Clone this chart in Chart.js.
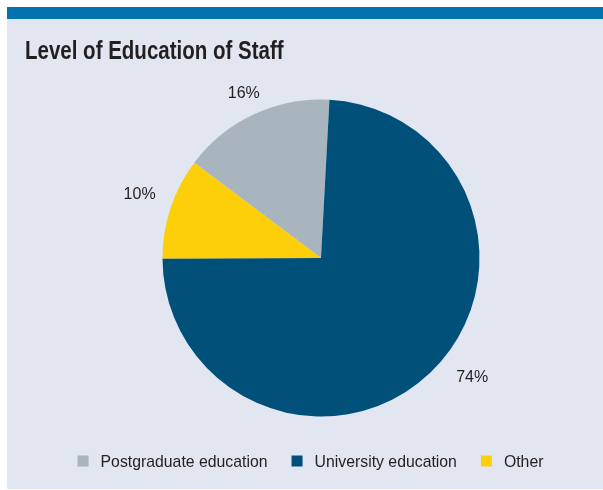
<!DOCTYPE html>
<html>
<head>
<meta charset="utf-8">
<script src="https://cdn.jsdelivr.net/npm/chart.js@4/dist/chart.umd.min.js"></script>
<style>
  html, body { margin: 0; padding: 0; background: #ffffff; }
  #wrap { position: relative; width: 603px; height: 490px; }
  canvas { display: block; }
</style>
</head>
<body>
<div id="wrap"><canvas id="c" width="603" height="490"></canvas></div>
<script>
// ---- data ----
const titleText = 'Level of Education of Staff';
const categories = ['Postgraduate education', 'University education', 'Other'];
const shares = [15.6, 74.1, 10.3];
const shareLabels = ['16%', '74%', '10%'];
const sliceColors = ['#a8b5bf', '#00507a', '#fccf0a'];

// ---- styles / positions ----
const FONT = '"Liberation Sans", Arial, Helvetica, sans-serif';
const PANEL_BG = '#e1e6f0';
const STRIP = '#0073ae';
const TEXT = '#231f20';
const labelAngleShift = [0, -8.5, 1.2];   // degrees, for the outside percentage labels
const labelGaps = [12, 17, 17];

function condensedText(ctx, text, x, y, sx) {
  ctx.save();
  ctx.translate(x, y);
  ctx.scale(sx, 1);
  ctx.fillText(text, 0, 0);
  ctx.restore();
}

const decorPlugin = {
  id: 'decor',
  beforeDraw(chart) {
    const ctx = chart.ctx;
    ctx.save();
    ctx.fillStyle = '#ffffff';
    ctx.fillRect(0, 0, chart.width, chart.height);
    ctx.fillStyle = PANEL_BG;
    ctx.fillRect(7, 7, chart.width - 7, chart.height - 8);
    ctx.fillStyle = STRIP;
    ctx.fillRect(7, 7, chart.width - 7, 12);
    // title
    ctx.fillStyle = TEXT;
    ctx.font = 'bold 25px ' + FONT;
    ctx.textBaseline = 'alphabetic';
    ctx.textAlign = 'left';
    condensedText(ctx, titleText, 25, 58.5, 0.82);
    ctx.restore();
  },
  afterDraw(chart) {
    const ctx = chart.ctx;
    const meta = chart.getDatasetMeta(0);
    ctx.save();
    // outside percentage labels
    ctx.font = '16px ' + FONT;
    ctx.fillStyle = TEXT;
    ctx.textAlign = 'center';
    ctx.textBaseline = 'alphabetic';
    meta.data.forEach((arc, i) => {
      const p = arc.getProps(['x', 'y', 'startAngle', 'endAngle', 'outerRadius'], true);
      const mid = (p.startAngle + p.endAngle) / 2 + labelAngleShift[i] * Math.PI / 180;
      const w = ctx.measureText(shareLabels[i]).width;
      const h = 11.5;
      const c = Math.cos(mid), s = Math.sin(mid);
      const d = p.outerRadius + labelGaps[i] + Math.abs(c) * w / 2 + Math.abs(s) * h / 2;
      ctx.fillText(shareLabels[i], p.x + c * d, p.y + s * d + h / 2);
    });
    // legend
    ctx.font = '17px ' + FONT;
    ctx.textAlign = 'left';
    ctx.textBaseline = 'alphabetic';
    const sx = 0.93;
    const box = 11, gap = 12, itemGap = 24;
    const widths = categories.map(t => box + gap + ctx.measureText(t).width * sx);
    const total = widths.reduce((a, b) => a + b, 0) + itemGap * (categories.length - 1);
    let x = 310.5 - total / 2;
    categories.forEach((t, i) => {
      ctx.fillStyle = sliceColors[i];
      ctx.fillRect(x, 455.5, box, box);
      ctx.fillStyle = TEXT;
      condensedText(ctx, t, x + box + gap, 467, sx);
      x += widths[i] + itemGap;
    });
    ctx.restore();
  }
};

new Chart(document.getElementById('c'), {
  type: 'pie',
  data: {
    labels: categories,
    datasets: [{
      data: shares,
      backgroundColor: sliceColors,
      borderWidth: 0,
      hoverOffset: 0
    }]
  },
  options: {
    responsive: false,
    animation: false,
    rotation: 306.9,
    layout: { padding: { left: 162.5, right: 123.5, top: 99.5, bottom: 73.5 } },
    plugins: {
      legend: { display: false },
      title: { display: false },
      tooltip: { enabled: false }
    }
  },
  plugins: [decorPlugin]
});
</script>
</body>
</html>
